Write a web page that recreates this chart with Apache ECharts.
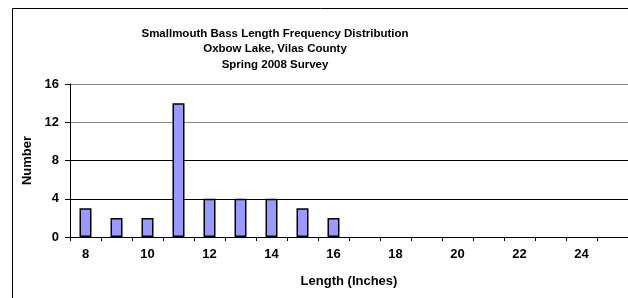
<!DOCTYPE html>
<html>
<head>
<meta charset="utf-8">
<script src="https://cdn.jsdelivr.net/npm/echarts@6/dist/echarts.min.js"></script>
<style>
html, body { margin: 0; padding: 0; background: #fff; }
#chart { width: 628px; height: 298px; }
</style>
</head>
<body>
<div id="chart"></div>
<script>
// length classes (inches) and fish counts
var lengths = ['8','9','10','11','12','13','14','15','16','17','18','19','20','21','22','23','24','25'];
var counts = [3, 2, 2, 14, 4, 4, 4, 3, 2, 0, 0, 0, 0, 0, 0, 0, 0, 0];
var titleLines = ['Smallmouth Bass Length Frequency Distribution', 'Oxbow Lake, Vilas County', 'Spring 2008 Survey'];

var myChart = echarts.init(document.getElementById('chart'));
var font = 'Liberation Sans, Arial, sans-serif';

// Excel draws nothing for empty classes, so zero counts become gaps
var barData = counts.map(function (v) { return v === 0 ? '-' : v; });

var option = {
    animation: false,
    backgroundColor: '#fff',
    title: {
        text: titleLines.join('\n'),
        left: 270,
        top: 21,
        textAlign: 'center',
        textStyle: {fontFamily: font, fontSize: 11.5, fontWeight: 'bold', color: '#000', lineHeight: 15.5}
    },
    graphic: [
        {type: 'rect', left: 10, top: 6, shape: {width: 700, height: 400}, style: {fill: 'none', stroke: '#000', lineWidth: 1}, silent: true}
    ],
    grid: {left: 70, right: -1, top: 84, bottom: 61},
    xAxis: {
        type: 'category',
        data: lengths,
        name: 'Length (Inches)',
        nameLocation: 'middle',
        nameGap: 38,
        nameTextStyle: {fontFamily: font, fontSize: 13, fontWeight: 'bold', color: '#000'},
        axisLine: {lineStyle: {color: '#000', width: 1}},
        axisTick: {show: true, interval: 0, length: 4, lineStyle: {color: '#000'}},
        axisLabel: {interval: 1, margin: 11, fontFamily: font, fontSize: 13, fontWeight: 'bold', color: '#000'}
    },
    yAxis: {
        type: 'value',
        min: 0,
        max: 16,
        interval: 4,
        name: 'Number',
        nameLocation: 'middle',
        nameGap: 32,
        nameTextStyle: {fontFamily: font, fontSize: 13, fontWeight: 'bold', color: '#000'},
        axisLine: {show: true, lineStyle: {color: '#000', width: 1}},
        axisTick: {show: true, length: 5, lineStyle: {color: '#000'}},
        axisLabel: {margin: 11, fontFamily: font, fontSize: 13, fontWeight: 'bold', color: '#000'},
        splitLine: {show: true, lineStyle: {color: ['#000', '#000', '#000', '#888', '#888'], width: 1}}
    },
    series: [
        {
            type: 'bar',
            name: 'Number',
            data: barData,
            barWidth: 12,
            itemStyle: {color: '#9999FF', borderColor: '#000', borderWidth: 1.5}
        }
    ]
};

myChart.setOption(option);
</script>
</body>
</html>
